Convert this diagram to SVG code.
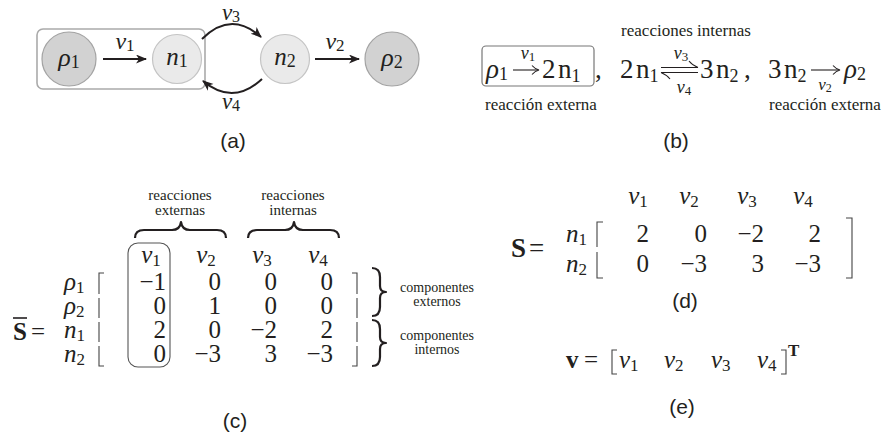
<svg xmlns="http://www.w3.org/2000/svg" width="889" height="443" viewBox="0 0 889 443">
<defs>
<style>
.edge{fill:none;stroke:#231f20;stroke-width:2}
.thin{fill:none;stroke:#231f20;stroke-width:1.1}
.brk{fill:none;stroke:#444;stroke-width:1.1}
.brace{fill:none;stroke:#231f20;stroke-width:2.2;stroke-linejoin:round}
.dark{fill:#d2d2d2;stroke:#a3a3a3;stroke-width:1.2}
.light{fill:#eaeaea;stroke:#c4c4c4;stroke-width:1.2}
</style>
<marker id="ah" markerUnits="userSpaceOnUse" markerWidth="12" markerHeight="10" refX="10" refY="4.5" orient="auto">
<path d="M0,0 L11,4.5 L0,9 L3,4.5 z" fill="#231f20"/>
</marker>
</defs>

<!-- (a) -->
<g id="panel-a" fill="#231f20">
<rect x="37" y="29" width="168" height="60" rx="6" fill="none" stroke="#aaaaaa" stroke-width="1.6"/>
<g id="node-rho1"><circle cx="69" cy="59" r="27" class="dark"/><text style="font-family:'Liberation Serif',serif" x="69" y="66" text-anchor="middle" font-size="26"><tspan font-style="italic">ρ</tspan><tspan dy="2" font-size="18">1</tspan></text></g>
<g id="node-n1"><circle cx="177" cy="59" r="24.5" class="light"/><text style="font-family:'Liberation Serif',serif" x="177" y="65" text-anchor="middle" font-size="25"><tspan font-style="italic">n</tspan><tspan dy="2" font-size="18">1</tspan></text></g>
<g id="node-n2"><circle cx="285" cy="59" r="24.5" class="light"/><text style="font-family:'Liberation Serif',serif" x="285" y="65" text-anchor="middle" font-size="25"><tspan font-style="italic">n</tspan><tspan dy="2" font-size="18">2</tspan></text></g>
<g id="node-rho2"><circle cx="392" cy="59" r="27" class="dark"/><text style="font-family:'Liberation Serif',serif" x="392" y="66" text-anchor="middle" font-size="26"><tspan font-style="italic">ρ</tspan><tspan dy="2" font-size="18">2</tspan></text></g>
<g id="connectors">
<line x1="103" y1="59" x2="146" y2="59" class="edge" marker-end="url(#ah)"/>
<line x1="315" y1="59" x2="359" y2="59" class="edge" marker-end="url(#ah)"/>
<path d="M202,39 Q231,10 261,37" class="edge" marker-end="url(#ah)"/>
<path d="M262,79 Q233,106 203,81" class="edge" marker-end="url(#ah)"/>
</g>
<text style="font-family:'Liberation Serif',serif" x="125" y="49" text-anchor="middle" font-size="24"><tspan font-style="italic">v</tspan><tspan dy="2" font-size="17">1</tspan></text>
<text style="font-family:'Liberation Serif',serif" x="335" y="49" text-anchor="middle" font-size="24"><tspan font-style="italic">v</tspan><tspan dy="2" font-size="17">2</tspan></text>
<text style="font-family:'Liberation Serif',serif" x="231" y="20" text-anchor="middle" font-size="23"><tspan font-style="italic">v</tspan><tspan dy="2" font-size="16">3</tspan></text>
<text style="font-family:'Liberation Serif',serif" x="231" y="109" text-anchor="middle" font-size="23"><tspan font-style="italic">v</tspan><tspan dy="2" font-size="16">4</tspan></text>
<text style="font-family:'Liberation Sans',Arial,sans-serif" x="233" y="148" text-anchor="middle" font-size="21">(a)</text>
</g>

<!-- (b) -->
<g id="panel-b" fill="#231f20">
<text style="font-family:'Liberation Serif',serif" x="686" y="36" text-anchor="middle" font-size="17">reacciones internas</text>
<rect x="482" y="46" width="112" height="40" rx="4" fill="none" stroke="#777" stroke-width="1.2"/>
<text style="font-family:'Liberation Serif',serif" x="486" y="78" font-size="27"><tspan font-style="italic">ρ</tspan><tspan dy="2" font-size="18">1</tspan></text>
<line x1="513" y1="70" x2="538" y2="70" class="thin"/>
<path d="M532,65.5 Q535,69 539,70 Q535,71 532,74.5" class="thin"/>
<text style="font-family:'Liberation Serif',serif" x="528" y="59" text-anchor="middle" font-size="18"><tspan font-style="italic">v</tspan><tspan dy="2" font-size="13">1</tspan></text>
<text style="font-family:'Liberation Serif',serif" x="542" y="78" font-size="27">2</text>
<text style="font-family:'Liberation Serif',serif" x="558" y="78" font-size="27">n<tspan dy="4" font-size="18">1</tspan></text>
<text style="font-family:'Liberation Serif',serif" x="595" y="78" font-size="27">,</text>
<text style="font-family:'Liberation Serif',serif" x="620" y="78" font-size="27">2</text>
<text style="font-family:'Liberation Serif',serif" x="636" y="78" font-size="27">n<tspan dy="4" font-size="18">1</tspan></text>
<line x1="661" y1="67.5" x2="698" y2="67.5" class="thin"/>
<path d="M698,67.5 Q692,65 689,61" class="thin"/>
<line x1="661" y1="72.5" x2="698" y2="72.5" class="thin"/>
<path d="M661,72.5 Q667,75 670,79" class="thin"/>
<text style="font-family:'Liberation Serif',serif" x="681" y="59" text-anchor="middle" font-size="18"><tspan font-style="italic">v</tspan><tspan dy="2" font-size="13">3</tspan></text>
<text style="font-family:'Liberation Serif',serif" x="684" y="93" text-anchor="middle" font-size="18"><tspan font-style="italic">v</tspan><tspan dy="2" font-size="13">4</tspan></text>
<text style="font-family:'Liberation Serif',serif" x="700" y="78" font-size="27">3</text>
<text style="font-family:'Liberation Serif',serif" x="716" y="78" font-size="27">n<tspan dy="4" font-size="18">2</tspan></text>
<text style="font-family:'Liberation Serif',serif" x="744" y="78" font-size="27">,</text>
<text style="font-family:'Liberation Serif',serif" x="768" y="78" font-size="27">3</text>
<text style="font-family:'Liberation Serif',serif" x="784" y="78" font-size="27">n<tspan dy="4" font-size="18">2</tspan></text>
<line x1="811" y1="70" x2="839" y2="70" class="thin"/>
<path d="M833,65.5 Q836,69 840,70 Q836,71 833,74.5" class="thin"/>
<text style="font-family:'Liberation Serif',serif" x="825" y="90" text-anchor="middle" font-size="17"><tspan font-style="italic">v</tspan><tspan dy="2" font-size="12">2</tspan></text>
<text style="font-family:'Liberation Serif',serif" x="844" y="78" font-size="27"><tspan font-style="italic">ρ</tspan><tspan dy="2" font-size="18">2</tspan></text>
<text style="font-family:'Liberation Serif',serif" x="541" y="110" text-anchor="middle" font-size="17">reacción externa</text>
<text style="font-family:'Liberation Serif',serif" x="825" y="110" text-anchor="middle" font-size="17">reacción externa</text>
<text style="font-family:'Liberation Sans',Arial,sans-serif" x="676" y="148" text-anchor="middle" font-size="21">(b)</text>
</g>

<!-- (c) -->
<g id="panel-c" fill="#231f20">
<text style="font-family:'Liberation Serif',serif" x="180" y="200" text-anchor="middle" font-size="15">reacciones</text>
<text style="font-family:'Liberation Serif',serif" x="180" y="215" text-anchor="middle" font-size="15">externas</text>
<text style="font-family:'Liberation Serif',serif" x="293" y="200" text-anchor="middle" font-size="15">reacciones</text>
<text style="font-family:'Liberation Serif',serif" x="293" y="215" text-anchor="middle" font-size="15">internas</text>
<path d="M135,238 Q135,230 144,230 H172 Q180,230 181,222 Q182,230 190,230 H217 Q226,230 226,238" class="brace"/>
<path d="M248,238 Q248,230 257,230 H285 Q293,230 294,222 Q295,230 303,230 H330 Q339,230 339,238" class="brace"/>
<text style="font-family:'Liberation Serif',serif" x="13" y="340" font-weight="bold" font-size="25">S</text>
<line x1="13" y1="318" x2="27" y2="318" stroke="#231f20" stroke-width="1.6"/>
<text style="font-family:'Liberation Serif',serif" x="31" y="340" font-size="25">=</text>
<text style="font-family:'Liberation Serif',serif" x="151" y="263" text-anchor="middle" font-size="25"><tspan font-style="italic">v</tspan><tspan dy="3" font-size="17">1</tspan></text>
<text style="font-family:'Liberation Serif',serif" x="206" y="263" text-anchor="middle" font-size="25"><tspan font-style="italic">v</tspan><tspan dy="3" font-size="17">2</tspan></text>
<text style="font-family:'Liberation Serif',serif" x="262" y="263" text-anchor="middle" font-size="25"><tspan font-style="italic">v</tspan><tspan dy="3" font-size="17">3</tspan></text>
<text style="font-family:'Liberation Serif',serif" x="318" y="263" text-anchor="middle" font-size="25"><tspan font-style="italic">v</tspan><tspan dy="3" font-size="17">4</tspan></text>
<text style="font-family:'Liberation Serif',serif" x="64" y="290" font-size="25"><tspan font-style="italic">ρ</tspan><tspan dy="3" font-size="17">1</tspan></text>
<text style="font-family:'Liberation Serif',serif" x="64" y="314" font-size="25"><tspan font-style="italic">ρ</tspan><tspan dy="3" font-size="17">2</tspan></text>
<text style="font-family:'Liberation Serif',serif" x="64" y="338" font-size="25"><tspan font-style="italic">n</tspan><tspan dy="3" font-size="17">1</tspan></text>
<text style="font-family:'Liberation Serif',serif" x="64" y="362" font-size="25"><tspan font-style="italic">n</tspan><tspan dy="3" font-size="17">2</tspan></text>
<path d="M104,273 H99 V294 M99,298 V318 M99,322 V342 M99,346 V366 H104" class="brk"/>
<path d="M352,273 H357 V294 M357,298 V318 M357,322 V342 M357,346 V366 H352" class="brk"/>
<rect x="128" y="243" width="42" height="124" rx="10" fill="none" stroke="#555" stroke-width="1.1"/>
<g text-anchor="end" font-size="25">
<text style="font-family:'Liberation Serif',serif" x="166" y="290">−1</text><text style="font-family:'Liberation Serif',serif" x="221" y="290">0</text><text style="font-family:'Liberation Serif',serif" x="277" y="290">0</text><text style="font-family:'Liberation Serif',serif" x="333" y="290">0</text>
<text style="font-family:'Liberation Serif',serif" x="166" y="314">0</text><text style="font-family:'Liberation Serif',serif" x="221" y="314">1</text><text style="font-family:'Liberation Serif',serif" x="277" y="314">0</text><text style="font-family:'Liberation Serif',serif" x="333" y="314">0</text>
<text style="font-family:'Liberation Serif',serif" x="166" y="338">2</text><text style="font-family:'Liberation Serif',serif" x="221" y="338">0</text><text style="font-family:'Liberation Serif',serif" x="277" y="338">−2</text><text style="font-family:'Liberation Serif',serif" x="333" y="338">2</text>
<text style="font-family:'Liberation Serif',serif" x="166" y="362">0</text><text style="font-family:'Liberation Serif',serif" x="221" y="362">−3</text><text style="font-family:'Liberation Serif',serif" x="277" y="362">3</text><text style="font-family:'Liberation Serif',serif" x="333" y="362">−3</text>
</g>
<path d="M372,268 Q380,268 380,277 V286 Q380,292 386,292 Q380,292 380,298 V307 Q380,316 372,316" class="brace"/>
<path d="M372,320 Q380,320 380,329 V337 Q380,343 386,343 Q380,343 380,349 V357 Q380,366 372,366" class="brace"/>
<text style="font-family:'Liberation Serif',serif" x="437" y="292" text-anchor="middle" font-size="14">componentes</text>
<text style="font-family:'Liberation Serif',serif" x="437" y="306" text-anchor="middle" font-size="14">externos</text>
<text style="font-family:'Liberation Serif',serif" x="437" y="340" text-anchor="middle" font-size="14">componentes</text>
<text style="font-family:'Liberation Serif',serif" x="437" y="354" text-anchor="middle" font-size="14">internos</text>
<text style="font-family:'Liberation Sans',Arial,sans-serif" x="235" y="428" text-anchor="middle" font-size="21">(c)</text>
</g>

<!-- (d) -->
<g id="panel-d" fill="#231f20">
<text style="font-family:'Liberation Serif',serif" x="511" y="257" font-weight="bold" font-size="27">S</text>
<text style="font-family:'Liberation Serif',serif" x="529" y="257" font-size="27">=</text>
<text style="font-family:'Liberation Serif',serif" x="638" y="204" text-anchor="middle" font-size="25"><tspan font-style="italic">v</tspan><tspan dy="3" font-size="17">1</tspan></text>
<text style="font-family:'Liberation Serif',serif" x="689" y="204" text-anchor="middle" font-size="25"><tspan font-style="italic">v</tspan><tspan dy="3" font-size="17">2</tspan></text>
<text style="font-family:'Liberation Serif',serif" x="747" y="204" text-anchor="middle" font-size="25"><tspan font-style="italic">v</tspan><tspan dy="3" font-size="17">3</tspan></text>
<text style="font-family:'Liberation Serif',serif" x="803" y="204" text-anchor="middle" font-size="25"><tspan font-style="italic">v</tspan><tspan dy="3" font-size="17">4</tspan></text>
<text style="font-family:'Liberation Serif',serif" x="566" y="242" font-size="25"><tspan font-style="italic">n</tspan><tspan dy="3" font-size="17">1</tspan></text>
<text style="font-family:'Liberation Serif',serif" x="566" y="272" font-size="25"><tspan font-style="italic">n</tspan><tspan dy="3" font-size="17">2</tspan></text>
<path d="M603,222 H597 V247 M597,252 V278 H603" class="brk"/>
<path d="M846,218 H852 V278 H846" class="brk"/>
<g text-anchor="end" font-size="25">
<text style="font-family:'Liberation Serif',serif" x="649" y="242">2</text><text style="font-family:'Liberation Serif',serif" x="707" y="242">0</text><text style="font-family:'Liberation Serif',serif" x="764" y="242">−2</text><text style="font-family:'Liberation Serif',serif" x="821" y="242">2</text>
<text style="font-family:'Liberation Serif',serif" x="649" y="272">0</text><text style="font-family:'Liberation Serif',serif" x="707" y="272">−3</text><text style="font-family:'Liberation Serif',serif" x="764" y="272">3</text><text style="font-family:'Liberation Serif',serif" x="821" y="272">−3</text>
</g>
<text style="font-family:'Liberation Sans',Arial,sans-serif" x="685" y="308" text-anchor="middle" font-size="21">(d)</text>
</g>

<!-- (e) -->
<g id="panel-e" fill="#231f20">
<text style="font-family:'Liberation Serif',serif" x="566" y="368" font-weight="bold" font-size="25">v</text>
<text style="font-family:'Liberation Serif',serif" x="584" y="368" font-size="25">=</text>
<path d="M617,350 H612 V374 H617" class="brk"/>
<text style="font-family:'Liberation Serif',serif" x="619" y="368" font-size="25"><tspan font-style="italic">v</tspan><tspan dy="3" font-size="17">1</tspan></text>
<text style="font-family:'Liberation Serif',serif" x="664" y="368" font-size="25"><tspan font-style="italic">v</tspan><tspan dy="3" font-size="17">2</tspan></text>
<text style="font-family:'Liberation Serif',serif" x="711" y="368" font-size="25"><tspan font-style="italic">v</tspan><tspan dy="3" font-size="17">3</tspan></text>
<text style="font-family:'Liberation Serif',serif" x="757" y="368" font-size="25"><tspan font-style="italic">v</tspan><tspan dy="3" font-size="17">4</tspan></text>
<path d="M781,350 H786 V374 H781" class="brk"/>
<text style="font-family:'Liberation Serif',serif" x="788" y="356" font-weight="bold" font-size="17">T</text>
<text style="font-family:'Liberation Sans',Arial,sans-serif" x="682" y="414" text-anchor="middle" font-size="21">(e)</text>
</g>
</svg>
